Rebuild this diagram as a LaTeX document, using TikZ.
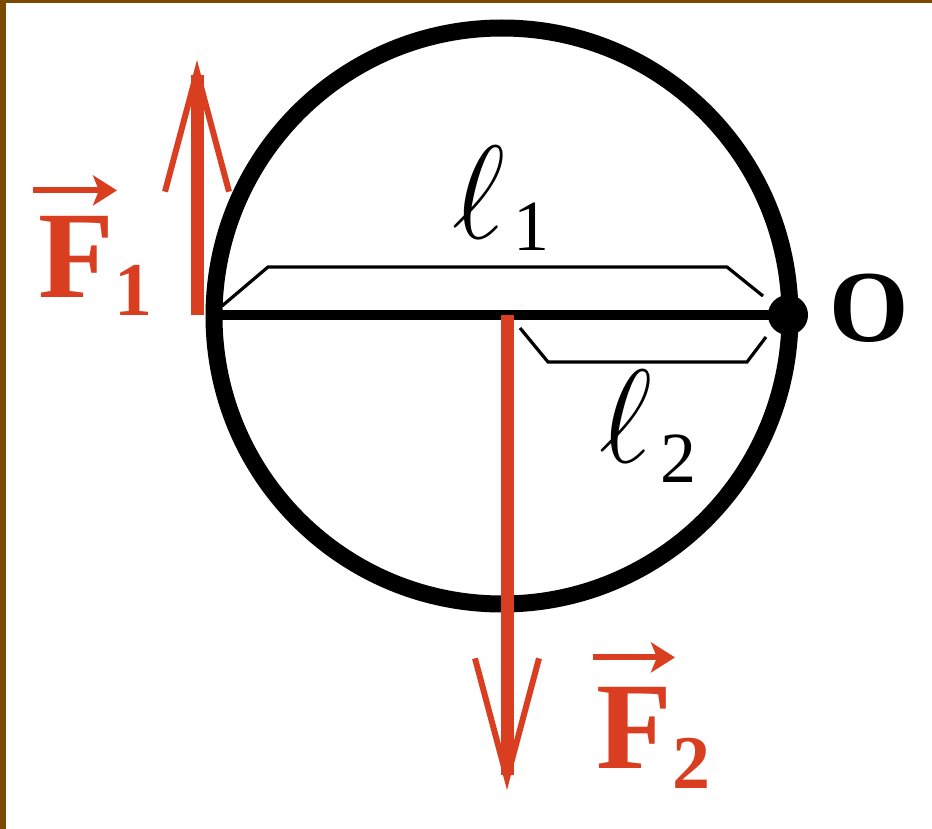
\RequirePackage{fix-cm}
\documentclass[tikz,border=0pt]{standalone}
\usepackage{fontspec}
\setmainfont{Liberation Serif}
\usepackage{graphicx}
\usepackage{xcolor}
\usepackage{tikz}
\usetikzlibrary{arrows.meta, positioning}

\definecolor{forcered}{RGB}{218,62,32}
\definecolor{framebrown}{RGB}{122,74,0}

\newcommand{\armell}{\scalebox{3.1}[3.2]{\fontsize{20.74}{24}\selectfont$\ell$}}

\begin{document}
\begin{tikzpicture}[x=0.5pt, y=-0.5pt,
    forcearrow/.style={draw=forcered, line width=6.5pt, -{Straight Barb[length=60pt, width=32pt, line width=3pt]}},
    vecarrow/.style={draw=forcered, line width=3pt, -{Stealth[length=12pt, width=15pt, inset=3pt]}},
    armbracket/.style={draw, line width=1.6pt, line join=miter},
    forcelabel/.style={text=forcered, inner sep=0pt, anchor=base west, font=\fontsize{62}{70}\selectfont\bfseries},
    armlabel/.style={inner sep=0pt, anchor=base west, font=\fontsize{40}{44}\selectfont}
]

    % Frame and background
    \useasboundingbox (0,0) rectangle (932,829);
    \fill[white] (0,0) rectangle (932,829);
    \fill[framebrown] (0,0) rectangle (6,829);
    \fill[framebrown] (0,0) rectangle (932,3);

    % Points on the lever
    \coordinate (center) at (502,316);
    \coordinate (left_end) at (215,315);
    \coordinate (pivot) at (788,315);
    \coordinate (mid_point) at (507,315);
    \coordinate (f1_base) at (197,315);
    \coordinate (f1_tip) at (197,60);
    \coordinate (f2_tip) at (507,790);

    % Wheel and lever bar
    \draw[line width=8.5pt] (center) circle[radius=288];
    \draw[line width=5pt] (left_end) -- (pivot);

    % Lever arms
    \draw[armbracket] (222,306) -- (268,267) -- (727,267) -- (763,296);
    \draw[armbracket] (520,328) -- (548,362) -- (747,362) -- (766,337);

    % Forces
    \draw[forcearrow] (f1_base) -- (f1_tip);
    \draw[forcearrow] (mid_point) -- (f2_tip);

    % Pivot
    \fill (pivot) circle[radius=20];
    \node[inner sep=0pt, font=\fontsize{51}{56}\selectfont\bfseries] (pivot_label) at (869,308) {O};

    % Labels
    \node[forcelabel] (f1_label) at (38,297) {F\raisebox{-9pt}{\fontsize{38}{40}\selectfont 1}};
    \draw[vecarrow] ([shift={(-5,-25)}]f1_label.north west) -- ++(84,0);
    \node[forcelabel] (f2_label) at (596,768) {F\raisebox{-10pt}{\fontsize{38}{40}\selectfont 2}};
    \draw[vecarrow] ([shift={(-3,-29)}]f2_label.north west) -- ++(82,0);
    \node[armlabel] (l1_label) at (452,238) {\armell\hspace{4pt}\raisebox{-6pt}{\fontsize{36}{40}\selectfont 1}};
    \node[armlabel] (l2_label) at (599,462) {\armell\hspace{4pt}\raisebox{-10pt}{\fontsize{36}{40}\selectfont 2}};

\end{tikzpicture}
\end{document}
